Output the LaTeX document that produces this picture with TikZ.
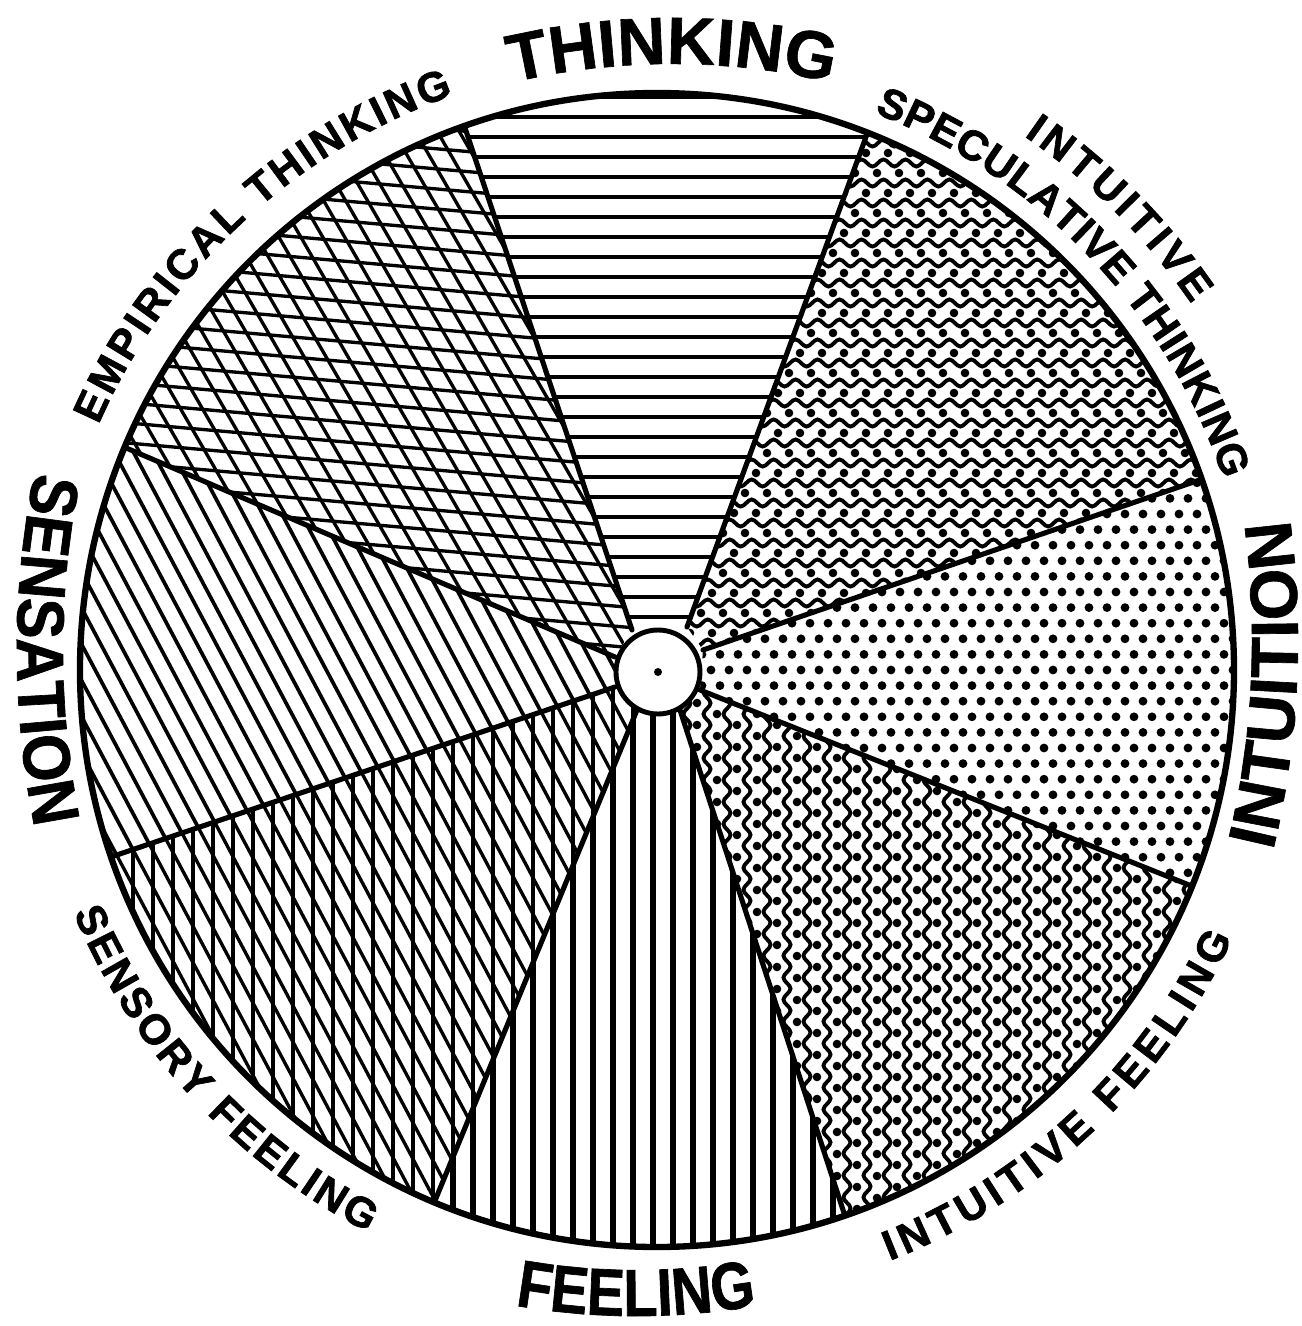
\documentclass[tikz,border=0pt]{standalone}
\usepackage{fontspec}
\newfontfamily\labfont{Liberation Sans Bold}[FakeBold=1]
\newfontfamily\labfontn{Liberation Sans Bold}[FakeStretch=0.84, FakeBold=1]
\newfontfamily\labfonts{Liberation Sans Bold}[FakeStretch=0.92, FakeBold=1]
\newfontfamily\subfont{Liberation Sans Bold}[FakeBold=1.6]
\usetikzlibrary{decorations.text,decorations.pathmorphing}
\tikzset{
  hatch/.style={line width=2.4pt},
  xhatch/.style={line width=1.9pt},
  vhatch/.style={line width=2.9pt},
  wavy/.style={line width=2.2pt, decorate, decoration={snake, segment length=12.5pt, amplitude=2pt}},
  rim/.style={line width=3.6pt},
  spoke/.style={line width=2.9pt, line cap=round},
}
\begin{document}
\begin{tikzpicture}[x=0.02cm,y=0.02cm]
\useasboundingbox (-657,-656) rectangle (645,670);
\fill[white] (-657,-656) rectangle (645,670);
% inner ends of the spokes
\coordinate (p1) at (-25,40);
\coordinate (p2) at (30,43);
\coordinate (p3) at (46,20);
\coordinate (p4) at (43,-20);
\coordinate (p5) at (23,-40);
\coordinate (p6) at (-20,-40);
\coordinate (p7) at (-42,-17);
\coordinate (p8) at (-42,13);
% outer ends of the spokes
\coordinate (q1) at (109.5:577);
\coordinate (q2) at (68.6:577);
\coordinate (q3) at (19.3:577);
\coordinate (q4) at (-22:577);
\coordinate (q5) at (-71:577);
\coordinate (q6) at (-112.7:577);
\coordinate (q7) at (-161.1:577);
\coordinate (q8) at (157.3:577);
\coordinate (hub) at (1,-2);

% THINKING: horizontal lines
\begin{scope}
\clip (p2) -- (q2) arc[start angle=68.6, end angle=109.5, radius=577] -- (p1) -- cycle;
\foreach \y in {13,33,...,593} \draw[hatch] (-300,\y) -- (300,\y);
\end{scope}

% EMPIRICAL THINKING: cross hatch
\begin{scope}
\clip (p1) -- (q1) arc[start angle=109.5, end angle=157.3, radius=577] -- (p8) -- cycle;
\begin{scope}[rotate=-5]
\foreach \y in {-700,-680,...,700} \draw[xhatch] (-800,\y) -- (800,\y);
\end{scope}
\begin{scope}[rotate=-60]
\foreach \y in {-700,-681,...,700} \draw[xhatch] (-800,\y) -- (800,\y);
\end{scope}
\end{scope}

% SENSATION: diagonal lines
\begin{scope}
\clip (p8) -- (q8) arc[start angle=157.3, end angle=198.9, radius=577] -- (p7) -- cycle;
\begin{scope}[rotate=-62]
\foreach \y in {-700,-683,...,700} \draw[line width=2.1pt] (-800,\y) -- (800,\y);
\end{scope}
\end{scope}

% SENSORY FEELING: vertical + diagonal
\begin{scope}
\clip (p7) -- (q7) arc[start angle=198.9, end angle=247.3, radius=577] -- (p6) -- cycle;
\foreach \x in {-604,-584,...,0} \draw[line width=2.2pt] (\x,-600) -- (\x,50);
\begin{scope}[rotate=-62]
\foreach \y in {-700,-683,...,700} \draw[xhatch] (-800,\y) -- (800,\y);
\end{scope}
\end{scope}

% FEELING: vertical lines
\begin{scope}
\clip (p6) -- (q6) arc[start angle=247.3, end angle=289, radius=577] -- (p5) -- cycle;
\foreach \x in {-304,-284,...,300} \draw[vhatch] (\x,-600) -- (\x,0);
\end{scope}

% INTUITIVE FEELING: vertical wavy lines and dots
\begin{scope}
\clip (p5) -- (q5) arc[start angle=289, end angle=338, radius=577] -- (p4) -- cycle;
\foreach \k in {0,...,29} \draw[wavy] (10+20*\k,-600) -- (10+20*\k,0);
\foreach \k [evaluate=\k as \xo using {mod(\k,2)*11}] in {0,...,29}
  { \fill \foreach \i in {0,...,28} { (20+20*\k,-\xo-22*\i) circle[radius=4.3] }; }
\end{scope}

% INTUITION: dots
\begin{scope}
\clip (p4) -- (q4) arc[start angle=-22, end angle=19.3, radius=577] -- (p3) -- cycle;
\foreach \j [evaluate=\j as \yy using {\j*15.6}, evaluate=\j as \xo using {mod(\j+100,2)*9}] in {-16,...,14}
  { \fill \foreach \i in {1,...,33} { (\i*18+\xo,\yy) circle[radius=4.4] }; }
\end{scope}

% INTUITIVE SPECULATIVE THINKING: horizontal wavy lines and dots
\begin{scope}
\clip (p3) -- (q3) arc[start angle=19.3, end angle=68.6, radius=577] -- (p2) -- cycle;
\foreach \k in {0,...,29} \draw[wavy] (0,7+20*\k) -- (620,7+20*\k);
\foreach \k [evaluate=\k as \xo using {mod(\k,2)*11}] in {0,...,29}
  { \fill \foreach \i in {0,...,28} { (\xo+22*\i,17+20*\k) circle[radius=4.3] }; }
\end{scope}

% spokes
\foreach \i in {1,...,8} \draw[spoke] (p\i) -- (q\i);
% rim
\draw[rim] (0,0) circle[radius=577];
% hub
\filldraw[fill=white, line width=2.8pt] (hub) circle[radius=42];
\fill (hub) circle[radius=4];

% main labels
\path[decorate, decoration={text along path, text align=center,
  text={|\labfont\fontsize{38}{40}\selectfont|THINKING}}]
  (15,-94) ++(105:700) arc[start angle=105, end angle=75, radius=700];
\path[decorate, decoration={text along path, text align=center,
  text={|\labfontn\fontsize{38}{40}\selectfont|FEELING}}]
  (-21,54) ++(255:700) arc[start angle=255, end angle=285, radius=700];
\path[decorate, decoration={text along path, text align=center,
  text={|\labfonts\fontsize{38}{40}\selectfont|SENSATION}}]
  (260,20) ++(166:900) arc[start angle=166, end angle=194, radius=900];
\path[decorate, decoration={text along path, text align=center,
  text={|\labfont\fontsize{38}{40}\selectfont|INTUITION}}]
  (-259,30) ++(-16.93:900) arc[start angle=-16.93, end angle=11.07, radius=900];

% sub labels
\path[decorate, decoration={text along path, text align=fit to path,
  text={|\subfont\fontsize{24}{26}\selectfont|EMPIRICAL THINKING}}]
  (156.3:610) arc[start angle=156.3, end angle=109.5, radius=610];
\path[decorate, decoration={text along path, text align=fit to path,
  text={|\subfont\fontsize{24}{26}\selectfont|SPECULATIVE THINKING}}]
  (68.7:598) arc[start angle=68.7, end angle=18.6, radius=598];
\path[decorate, decoration={text along path, text align=fit to path,
  text={|\subfont\fontsize{24}{26}\selectfont|INTUITIVE}}]
  (55.5:648) arc[start angle=55.5, end angle=34.4, radius=648];
\path[decorate, decoration={text along path, text align=fit to path,
  text={|\subfont\fontsize{24}{26}\selectfont|INTUITIVE FEELING}}]
  (-68.5:635) arc[start angle=-68.5, end angle=-25, radius=635];
\path[decorate, decoration={text along path, text align=fit to path,
  text={|\subfont\fontsize{24}{26}\selectfont|SENSORY FEELING}}]
  (202.6:632) arc[start angle=202.6, end angle=242.8, radius=632];
\end{tikzpicture}
\end{document}
